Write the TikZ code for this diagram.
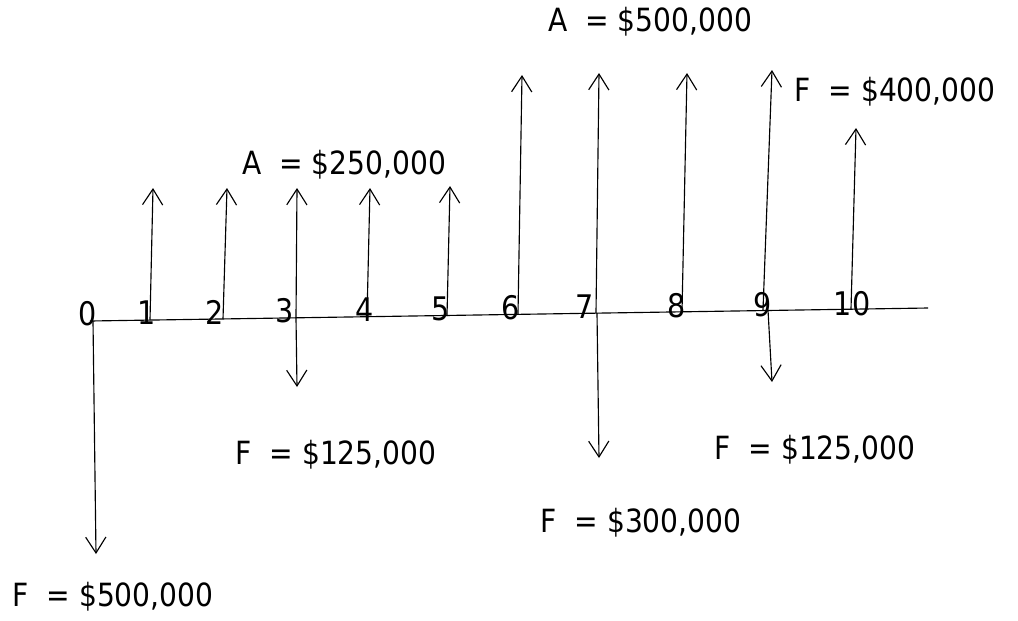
\documentclass[tikz,border=0pt]{standalone}
\usepackage{fontspec}
\setmainfont{DejaVu Sans}[FakeStretch=0.88]
\usepackage{tikz}
\usetikzlibrary{arrows.meta}

\begin{document}
\begin{tikzpicture}[x=0.02cm,y=-0.02cm,
    flow/.style={-{Straight Barb[length=9pt,width=11.5pt]},line width=0.65pt},
    axisline/.style={line width=0.65pt},
    tick/.style={inner sep=0pt,font=\fontsize{18.5}{20}\selectfont},
    amount/.style={inner sep=0pt,font=\fontsize{18.2}{20}\selectfont}]
   \useasboundingbox (0,0) rectangle (1018,620);
   % time line
   \coordinate (ax0) at (90,321);
   \coordinate (ax1) at (928,308);
   \draw[axisline] (ax0)--(ax1);
   \node[tick] (t0)  at (88,314)  {0};
   \node[tick] (t1)  at (147,313) {1};
   \node[tick] (t2)  at (215,312) {2};
   \node[tick] (t3)  at (285,311) {3};
   \node[tick] (t4)  at (365,310) {4};
   \node[tick] (t5)  at (441,309) {5};
   \node[tick] (t6)  at (511,308) {6};
   \node[tick] (t7)  at (585,307) {7};
   \node[tick] (t8)  at (677,306) {8};
   \node[tick] (t9)  at (763,305) {9};
   \node[tick] (t10) at (852,304) {10};
   % receipts
   \coordinate (b1)  at (150,320);  \coordinate (u1)  at (153,188);
   \coordinate (b2)  at (223,319);  \coordinate (u2)  at (227,188);
   \coordinate (b3)  at (296,318);  \coordinate (u3)  at (297,188);
   \coordinate (b4)  at (367,317);  \coordinate (u4)  at (370,188);
   \coordinate (b5)  at (447,316);  \coordinate (u5)  at (450,186);
   \coordinate (b6)  at (518,314);  \coordinate (u6)  at (522,75);
   \coordinate (b7)  at (596,313);  \coordinate (u7)  at (599,73);
   \coordinate (b8)  at (682,312);  \coordinate (u8)  at (687,73);
   \coordinate (b9)  at (763,310);  \coordinate (u9)  at (772,70);
   \coordinate (b10) at (851,309);  \coordinate (u10) at (856,128);
   \draw[flow] (b1)--(u1);
   \draw[flow] (b2)--(u2);
   \draw[flow] (b3)--(u3);
   \draw[flow] (b4)--(u4);
   \draw[flow] (b5)--(u5);
   \draw[flow] (b6)--(u6);
   \draw[flow] (b7)--(u7);
   \draw[flow] (b8)--(u8);
   \draw[flow] (b9)--(u9);
   \draw[flow] (b10)--(u10);
   % payments
   \coordinate (c0) at (93,321);   \coordinate (d0) at (96,554);
   \coordinate (c3) at (296,318);  \coordinate (d3) at (297,387);
   \coordinate (c7) at (597,313);  \coordinate (d7) at (599,458);
   \coordinate (c9) at (768,310);  \coordinate (d9) at (772,382);
   \draw[flow] (c0)--(d0);
   \draw[flow] (c3)--(d3);
   \draw[flow] (c7)--(d7);
   \draw[flow] (c9)--(d9);
   % amounts
   \node[amount] (a250) at (344,165) {A\ \ = \$250,000};
   \node[amount] (a500) at (650,22)  {A\ \ = \$500,000};
   \node[amount] (f400) at (895,92)  {F\ \ = \$400,000};
   \node[amount] (f125a) at (336,455) {F\ \ = \$125,000};
   \node[amount] (f125b) at (815,450) {F\ \ = \$125,000};
   \node[amount] (f300) at (641,523) {F\ \ = \$300,000};
   \node[amount] (f500) at (113,597) {F\ \ = \$500,000};
  \end{tikzpicture}
\end{document}
